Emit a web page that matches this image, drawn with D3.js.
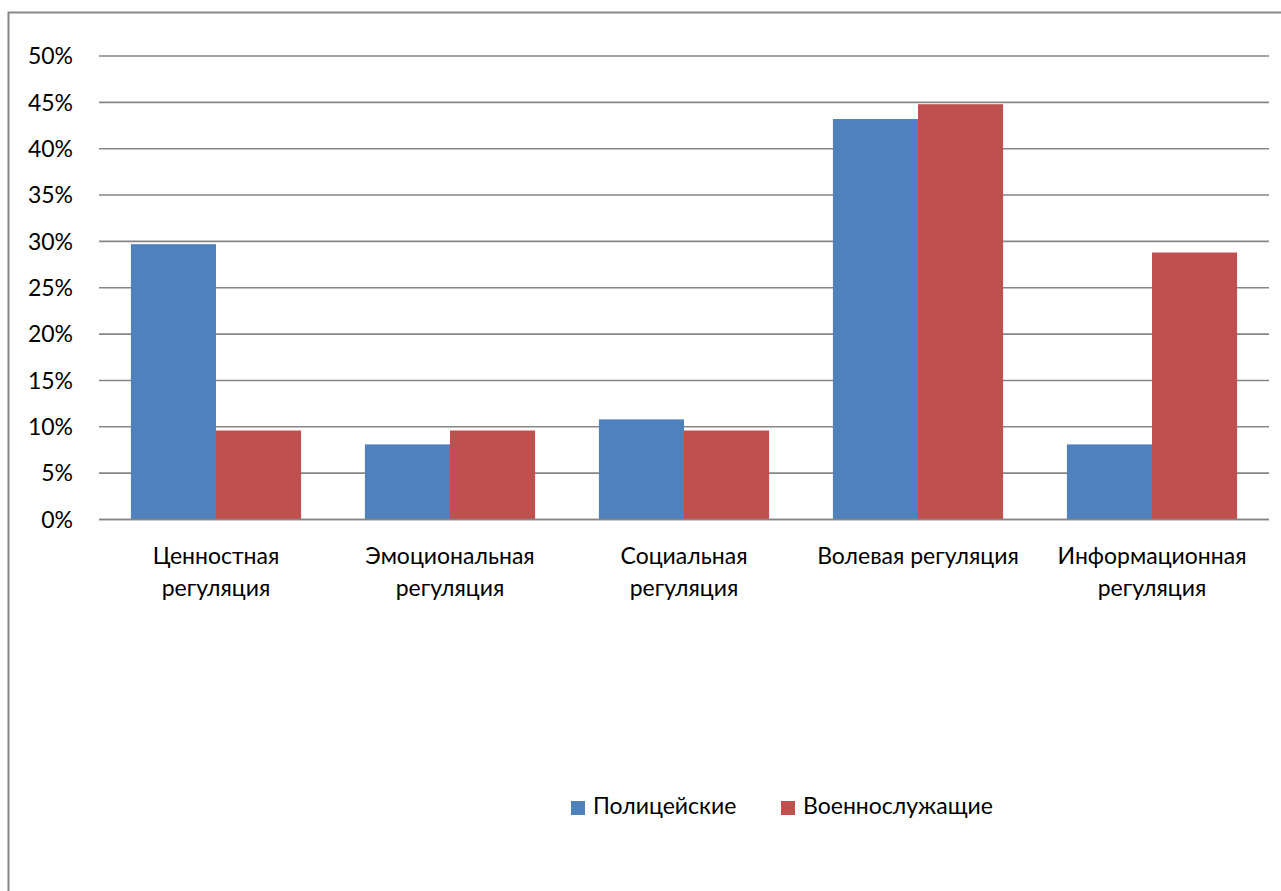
<!DOCTYPE html>
<html>
<head>
<meta charset="utf-8">
<script src="https://cdn.jsdelivr.net/npm/d3@7"></script>
<style>
  html, body { margin: 0; padding: 0; background: #fff; }
  svg { display: block; }
  text { font-family: Lato, "Open Sans", sans-serif; fill: #000; }
</style>
</head>
<body>
<svg id="chart" width="1281" height="891"></svg>
<script>
// Categories and series (shares of respondents)
const categories = [
  "Ценностная регуляция",
  "Эмоциональная регуляция",
  "Социальная регуляция",
  "Волевая регуляция",
  "Информационная регуляция"
];
const seriesNames = ["Полицейские", "Военнослужащие"];
const police   = [0.297, 0.081, 0.108, 0.432, 0.081];
const military = [0.096, 0.096, 0.096, 0.448, 0.288];
const yTicks = [0, 0.05, 0.10, 0.15, 0.20, 0.25, 0.30, 0.35, 0.40, 0.45, 0.50];
const colors = ["#4F81BD", "#C0504D"];

const svg = d3.select("#chart");
const W = 1281, H = 891;
const FONT = "23px";

// Outer chart frame (extends past the viewport on right and bottom)
svg.append("rect")
  .attr("x", 8.5).attr("y", 12.5)
  .attr("width", W + 20).attr("height", H + 20)
  .attr("fill", "#fff").attr("stroke", "#868686").attr("stroke-width", 2);

const plot = { left: 99, right: 1269, top: 56, bottom: 519.5 };

const x = d3.scaleBand()
  .domain(categories)
  .range([plot.left, plot.right])
  .paddingInner(0)
  .paddingOuter(0);

// Two bars per category, gap of 75% of a bar width split on both sides
const inner = d3.scaleBand()
  .domain(seriesNames)
  .range([0, x.bandwidth()])
  .paddingInner(0)
  .paddingOuter(0.375);

const y = d3.scaleLinear().domain([0, 0.5]).range([plot.bottom, plot.top]);

// Horizontal gridlines
svg.append("g")
  .selectAll("line")
  .data(yTicks)
  .join("line")
  .attr("x1", plot.left).attr("x2", plot.right)
  .attr("y1", d => y(d)).attr("y2", d => y(d))
  .attr("stroke", "#868686").attr("stroke-width", 1.6);

// Y axis labels
const fmt = d3.format(".0%");
svg.append("g")
  .selectAll("text")
  .data(yTicks)
  .join("text")
  .attr("x", 73).attr("y", d => y(d))
  .attr("dy", "0.36em")
  .attr("text-anchor", "end")
  .style("font-size", FONT)
  .text(d => fmt(d));

// Bars
const rows = categories.map((c, i) => ({ cat: c, vals: [police[i], military[i]] }));
const groups = svg.append("g")
  .selectAll("g")
  .data(rows)
  .join("g")
  .attr("transform", d => `translate(${x(d.cat)},0)`);

groups.selectAll("rect")
  .data(d => d.vals.map((v, k) => ({ name: seriesNames[k], v, k })))
  .join("rect")
  .attr("x", d => inner(d.name))
  .attr("width", inner.bandwidth())
  .attr("y", d => y(d.v))
  .attr("height", d => y(0) - y(d.v))
  .attr("fill", d => colors[d.k]);

// Redraw baseline on top of bars
svg.append("line")
  .attr("x1", plot.left).attr("x2", plot.right)
  .attr("y1", y(0)).attr("y2", y(0))
  .attr("stroke", "#868686").attr("stroke-width", 1.6);

// Category labels, wrapped to the band width
const maxW = x.bandwidth() - 12;
const labels = svg.append("g")
  .selectAll("text")
  .data(categories)
  .join("text")
  .attr("text-anchor", "middle")
  .style("font-size", FONT)
  .attr("x", d => x(d) + x.bandwidth() / 2)
  .attr("y", 564);

labels.each(function (d) {
  const t = d3.select(this);
  const words = d.split(" ");
  t.text(d);
  if (this.getComputedTextLength() <= maxW) return;
  t.text(null);
  let lines = [[]];
  words.forEach(w => {
    const cur = lines[lines.length - 1];
    const probe = t.append("tspan").text(cur.concat(w).join(" "));
    const len = probe.node().getComputedTextLength();
    probe.remove();
    if (len > maxW && cur.length) lines.push([w]); else cur.push(w);
  });
  lines.forEach((ln, i) => {
    t.append("tspan")
      .attr("x", x(d) + x.bandwidth() / 2)
      .attr("dy", i === 0 ? 0 : 32)
      .text(ln.join(" "));
  });
});

// Legend
const legendX = [571, 781];
const legend = svg.append("g")
  .selectAll("g")
  .data(seriesNames)
  .join("g")
  .attr("transform", (d, i) => `translate(${legendX[i]},800)`);
legend.append("rect")
  .attr("y", 1)
  .attr("width", 14).attr("height", 14)
  .attr("fill", (d, i) => colors[i]);
legend.append("text")
  .attr("x", 22).attr("y", 14)
  .style("font-size", FONT)
  .text(d => d);
</script>
</body>
</html>
